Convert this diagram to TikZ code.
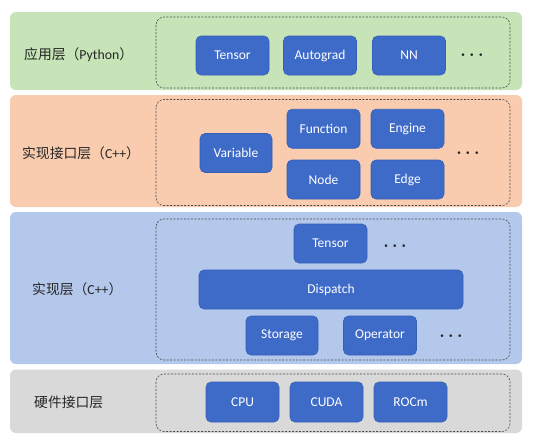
\documentclass[tikz,border=0pt]{standalone}
\usepackage{fontspec}
\setmainfont{Carlito}
\newfontfamily\cjk{Noto Sans CJK SC}
\definecolor{lgreen}{HTML}{C6E4B7}
\definecolor{lorange}{HTML}{F9CCAF}
\definecolor{lblue}{HTML}{B4C8EC}
\definecolor{lgray}{HTML}{D9D9D9}
\definecolor{nblue}{HTML}{3E6AC8}
\definecolor{nborder}{HTML}{3460B8}
\definecolor{ltext}{HTML}{262626}
\begin{document}
\begin{tikzpicture}[x=1pt,y=-1pt,
  layer/.style={rounded corners=6pt},
  dashbox/.style={draw=black!70,dashed,line width=0.6pt,rounded corners=8pt,dash pattern=on 2pt off 1.5pt},
  nodebox/.style={rectangle,rounded corners=5pt,fill=nblue,draw=nborder,line width=0.6pt,text=white,
    minimum width=73pt,minimum height=39pt,inner sep=0pt,font=\fontsize{13.5}{16}\selectfont},
  lbl/.style={anchor=west,text=ltext,inner sep=0pt,font=\fontsize{13.8}{16}\selectfont},
  dots/.style={inner sep=0pt,text=ltext,font=\fontsize{17}{20}\selectfont\boldmath}]
\useasboundingbox (0,0) rectangle (533,442);
\fill[white] (0,0) rectangle (533,442);
% layers
\fill[lgreen,layer] (10,12) rectangle (522,90);
\fill[lorange,layer] (10,95) rectangle (522,207);
\fill[lblue,layer] (10,212) rectangle (522,364);
\fill[lgray,layer] (10,369.5) rectangle (522,433);
% dashed frames
\draw[dashbox] (156,17) rectangle (510,88);
\draw[dashbox] (156,99.5) rectangle (510,205.5);
\draw[dashbox] (156,219) rectangle (510,360);
\draw[dashbox] (156,374) rectangle (510,431.5);
% labels
\node[lbl] (l1) at (24,55) {{\cjk 应用层（}Python{\cjk ）}};
\node[lbl] (l2) at (22,153) {{\cjk 实现接口层（}C++{\cjk ）}};
\node[lbl] (l3) at (32,289) {{\cjk 实现层（}C++{\cjk ）}};
\node[lbl] (l4) at (34,402) {{\cjk 硬件接口层}};
% application layer
\node[nodebox] (tensor) at (232.5,55.5) {Tensor};
\node[nodebox] (autograd) at (320,55.5) {Autograd};
\node[nodebox] (nn) at (409,55.5) {NN};
\node[dots] (d1) at (472,55) {$\cdots$};
% interface layer
\node[nodebox,minimum width=72pt] (variable) at (236,153) {Variable};
\node[nodebox] (function) at (323.5,128.75) {Function};
\node[nodebox] (engine) at (407.5,128.75) {Engine};
\node[nodebox] (nodeb) at (323.5,179.5) {Node};
\node[nodebox] (edge) at (407.5,179.5) {Edge};
\node[dots] (d2) at (468,153) {$\cdots$};
% implementation layer
\node[nodebox] (tensor2) at (330.5,243.5) {Tensor};
\node[dots] (d3) at (395,246) {$\cdots$};
\node[nodebox,minimum width=264pt] (dispatch) at (331,289.5) {Dispatch};
\node[nodebox,minimum width=72pt] (storage) at (282,335.5) {Storage};
\node[nodebox] (operator) at (380,335.5) {Operator};
\node[dots] (d4) at (451,336) {$\cdots$};
% hardware layer
\node[nodebox,minimum height=40pt] (cpu) at (242.5,402) {CPU};
\node[nodebox,minimum height=40pt] (cuda) at (326.5,402) {CUDA};
\node[nodebox,minimum height=40pt] (rocm) at (410.5,402) {ROCm};
\end{tikzpicture}
\end{document}
